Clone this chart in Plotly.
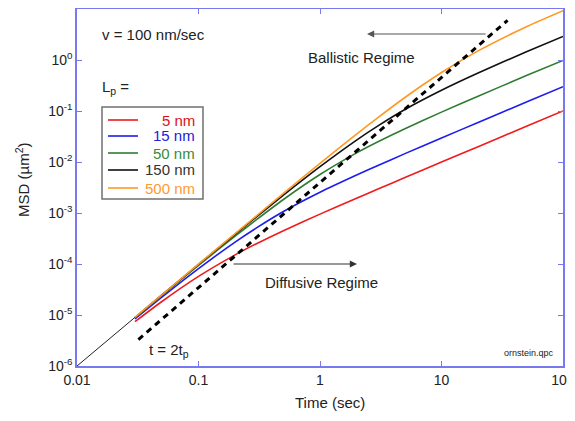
import plotly.graph_objects as go

# ---- data ----
time_s = [0.03, 0.05, 0.1, 0.2, 0.3, 0.5, 1, 2, 3, 5, 10, 20, 50, 100]
msd_5nm = [7.4e-6, 1.84e-5, 5.7e-5, 1.51e-4, 2.5e-4, 4.5e-4, 9.5e-4, 1.95e-3, 2.95e-3, 4.95e-3, 9.95e-3, 0.0200, 0.0500, 0.100]
msd_15nm = [8.4e-6, 2.24e-5, 8.1e-5, 2.69e-4, 5.1e-4, 1.07e-3, 2.55e-3, 5.55e-3, 8.55e-3, 0.0146, 0.0296, 0.0596, 0.150, 0.300]
msd_50nm = [8.8e-6, 2.42e-5, 9.4e-5, 3.52e-4, 7.4e-4, 1.84e-3, 5.68e-3, 0.0151, 0.0250, 0.0450, 0.095, 0.195, 0.495, 0.98]
msd_150nm = [8.9e-6, 2.47e-5, 9.8e-5, 3.83e-4, 8.4e-4, 2.24e-3, 8.1e-3, 0.0269, 0.0511, 0.107, 0.255, 0.555, 1.45, 2.9]
msd_500nm = [9.0e-6, 2.49e-5, 9.9e-5, 3.95e-4, 8.8e-4, 2.42e-3, 9.4e-3, 0.0352, 0.0744, 0.184, 0.568, 1.51, 4.5, 9.3]
ballistic_t = [0.01, 0.03]
ballistic_msd = [1.0e-6, 9.0e-6]
dashed_t = [0.032, 35]
dashed_msd = [3.3e-6, 6.0]

labels = ["5 nm", "15 nm", "50 nm", "150 nm", "500 nm"]
series = [msd_5nm, msd_15nm, msd_50nm, msd_150nm, msd_500nm]
colors = ["#ee1c1c", "#1c1cee", "#2e7d32", "#111111", "#ff9922"]
text_colors = ["#e01010", "#2020e0", "#3a8a3a", "#333333", "#ff9a30"]

y_tickvals = [1e-6, 1e-5, 1e-4, 1e-3, 1e-2, 1e-1, 1, 10]
y_ticktext = ["10<sup>-6</sup>", "10<sup>-5</sup>", "10<sup>-4</sup>", "10<sup>-3</sup>",
              "10<sup>-2</sup>", "10<sup>-1</sup>", "10<sup>0</sup>", "10<sup>1</sup>"]
x_tickvals = [0.01, 0.1, 1, 10, 100]
x_ticktext = ["0.01", "0.1", "1", "10", "100"]

FONT = "Arial, Liberation Sans, sans-serif"
AXC = "#7878f0"

fig = go.Figure()
fig.add_trace(go.Scatter(x=ballistic_t, y=ballistic_msd, mode="lines",
                         line=dict(color="#222222", width=1), showlegend=False))
for lab, ys, c in zip(labels, series, colors):
    fig.add_trace(go.Scatter(x=time_s, y=ys, mode="lines", name=lab,
                             line=dict(color=c, width=1.6, shape="spline", smoothing=0.6),
                             showlegend=False))
fig.add_trace(go.Scatter(x=dashed_t, y=dashed_msd, mode="lines",
                         line=dict(color="black", width=3, dash="6px,5px"), showlegend=False))

# geometry helpers: screen plot area x 77..563, y 9..366 px
# (page body adds an 8px offset, so the figure is sized 567x413)
TOP = 9
def px(x):
    return (x - 77) / 486.0
def py(y):
    return (366 - y) / (366.0 - TOP)

shapes = [dict(type="rect", xref="paper", yref="paper", x0=px(102), x1=px(203),
               y0=py(199), y1=py(107), line=dict(color="#707070", width=1.5),
               fillcolor="white", layer="above")]
annotations = []
rows = [120, 136, 153, 170, 188]
for r, lab, c, tc in zip(rows, labels, colors, text_colors):
    shapes.append(dict(type="line", xref="paper", yref="paper", x0=px(108), x1=px(138),
                       y0=py(r), y1=py(r), line=dict(color=c, width=1.6), layer="above"))
    annotations.append(dict(xref="paper", yref="paper", x=px(197), y=py(r), text=lab,
                            showarrow=False, xanchor="right", yanchor="middle",
                            font=dict(size=15, color=tc, family=FONT)))

txt = dict(size=15, color="#222222", family=FONT)
annotations += [
    dict(xref="paper", yref="paper", x=px(100), y=py(35), text="v = 100 nm/sec",
         showarrow=False, xanchor="left", yanchor="middle", font=txt),
    dict(xref="paper", yref="paper", x=px(100), y=py(87), text="L<sub>p</sub> =",
         showarrow=False, xanchor="left", yanchor="middle", font=txt),
    dict(xref="paper", yref="paper", x=px(306), y=py(58), text="Ballistic Regime",
         showarrow=False, xanchor="left", yanchor="middle", font=txt),
    dict(xref="paper", yref="paper", x=px(263), y=py(282), text="Diffusive Regime",
         showarrow=False, xanchor="left", yanchor="middle", font=txt),
    dict(xref="paper", yref="paper", x=px(147), y=py(350), text="t = 2t<sub>p</sub>",
         showarrow=False, xanchor="left", yanchor="middle", font=txt),
    dict(xref="paper", yref="paper", x=px(502), y=py(353), text="ornstein.qpc",
         showarrow=False, xanchor="left", yanchor="middle",
         font=dict(size=9, color="#222222", family=FONT)),
    # arrows
    dict(xref="paper", yref="paper", x=px(367), y=py(34), ax=120, ay=0, text="",
         showarrow=True, arrowhead=2, arrowsize=1.2, arrowwidth=1.2, arrowcolor="#555555"),
    dict(xref="paper", yref="paper", x=px(357), y=py(264), ax=-125, ay=0, text="",
         showarrow=True, arrowhead=2, arrowsize=1.2, arrowwidth=1.2, arrowcolor="#333333"),
    # axis titles
    dict(xref="paper", yref="paper", x=px(330), y=py(402), text="Time (sec)",
         showarrow=False, xanchor="center", yanchor="middle", font=txt),
    dict(xref="paper", yref="paper", x=px(22), y=py(180), text="MSD (µm<sup>2</sup>)",
         showarrow=False, xanchor="center", yanchor="middle", textangle=-90, font=txt),
]

axis_common = dict(type="log", showgrid=False, zeroline=False, showline=True, linecolor=AXC,
                   linewidth=1.5, mirror="ticks", ticks="inside", ticklen=5, tickcolor=AXC,
                   tickwidth=1, automargin=False,
                   tickfont=dict(size=14, color="#222222", family=FONT))

fig.update_layout(
    width=567, height=413,
    margin=dict(l=69, r=12, t=TOP - 8, b=55),
    paper_bgcolor="white", plot_bgcolor="white",
    xaxis=dict(range=[-2, 2], tickvals=x_tickvals, ticktext=x_ticktext, **axis_common),
    yaxis=dict(range=[-6, 1], tickvals=y_tickvals, ticktext=y_ticktext, **axis_common),
    shapes=shapes, annotations=annotations, showlegend=False,
)

fig.write_html("out.html")
